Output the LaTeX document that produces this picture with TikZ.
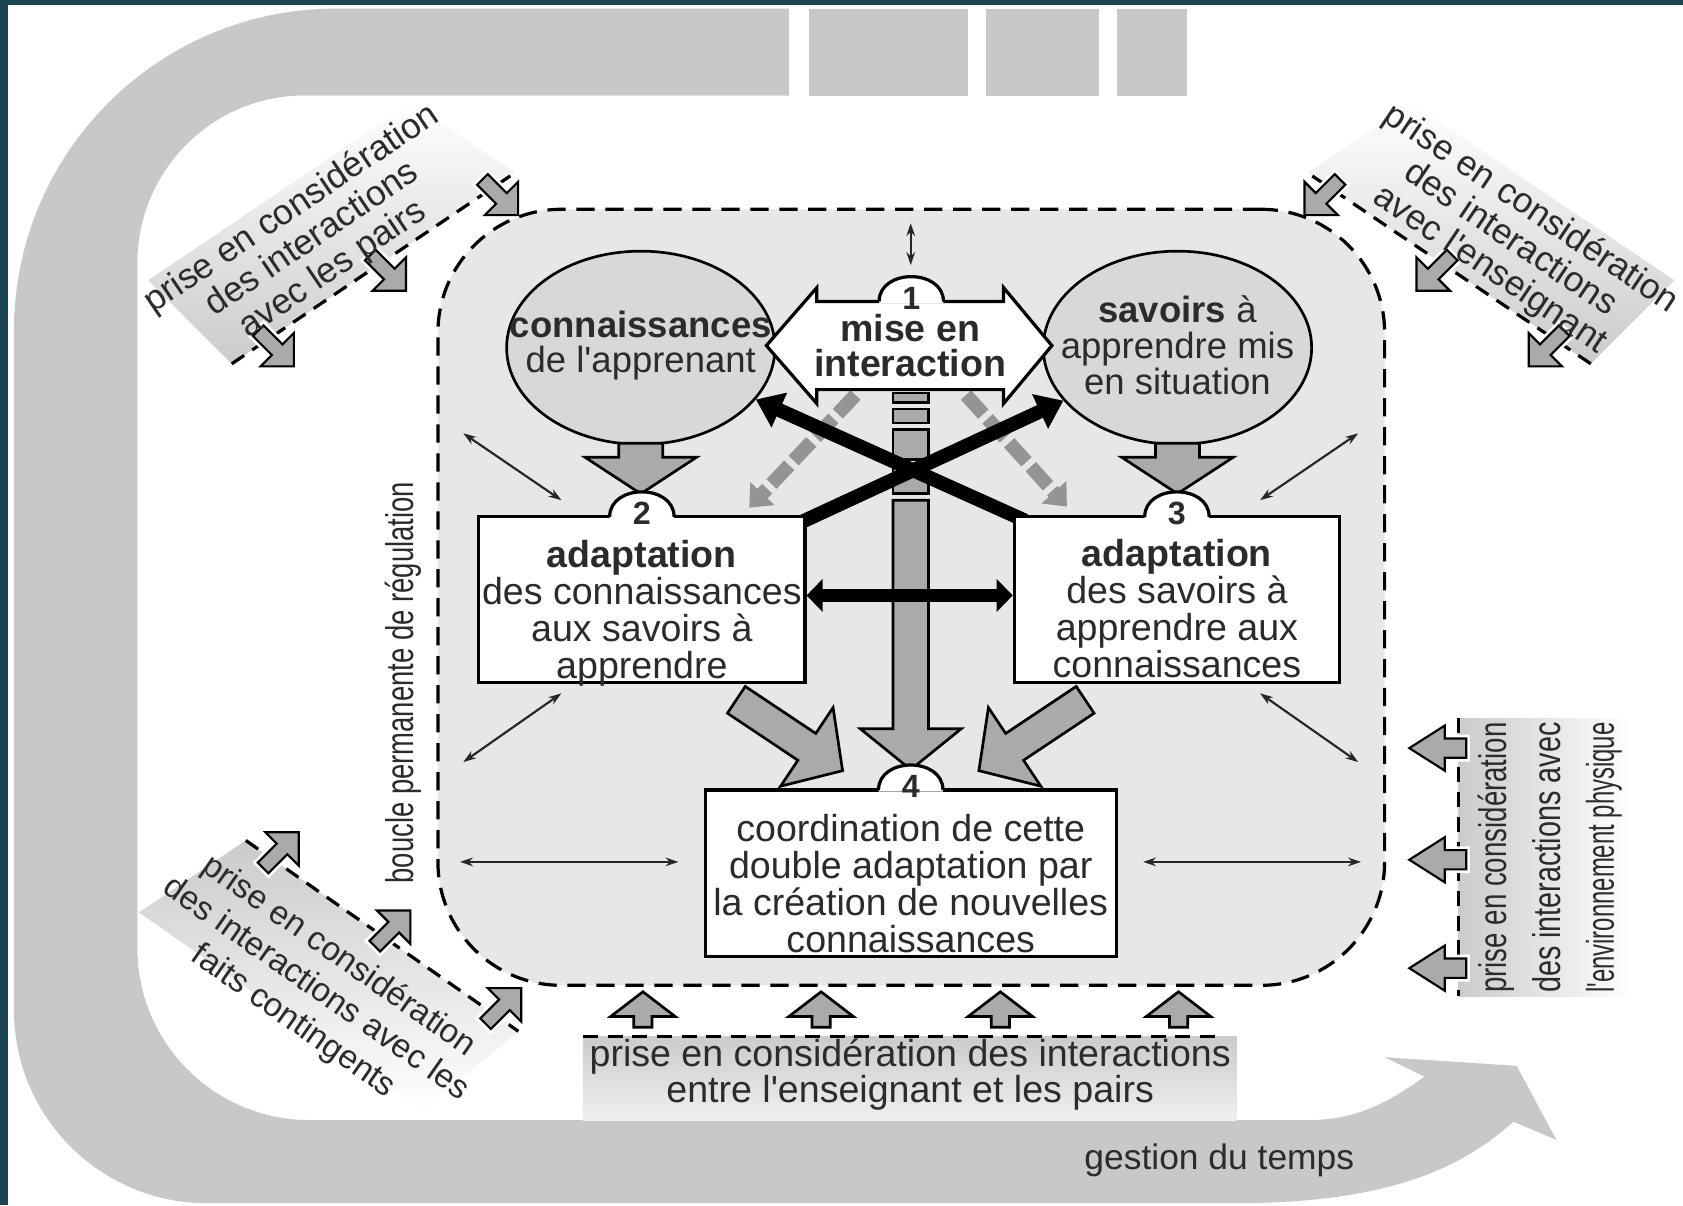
\documentclass[tikz,border=0pt]{standalone}
\usepackage{fontspec}
\setmainfont{Liberation Sans}
\usepackage{graphicx}
\usetikzlibrary{shapes.geometric,arrows.meta}

\definecolor{framecol}{HTML}{1B4552}
\definecolor{bandcol}{HTML}{C7C8CA}
\definecolor{zonecol}{HTML}{E6E7E8}
\definecolor{circcol}{HTML}{D7D8DA}
\definecolor{fatcol}{HTML}{A9AAAC}
\definecolor{dashcol}{HTML}{939496}
\definecolor{panelcol}{HTML}{CACBCD}
\definecolor{inkcol}{HTML}{2B2B2B}

\newcommand{\ap}{\textquotesingle}

\tikzset{
  zone/.style={draw=black, line width=3pt, dash pattern=on 17pt off 10pt, fill=zonecol, rounded corners=115pt, inner sep=0pt},
  thinarrow/.style={draw=black!85, line width=2pt, {Stealth[length=12pt,width=8pt]}-{Stealth[length=12pt,width=8pt]}},
  circ/.style={ellipse, draw=black, line width=2.5pt, fill=circcol, inner sep=0pt, minimum width=250pt, minimum height=180pt},
  stagebox/.style={draw=black, line width=3pt, fill=white, inner sep=0pt},
  txt/.style={font=\fontsize{35}{34.5}\selectfont, align=center, inner sep=0pt, text=inkcol},
  paneltxt/.style={font=\fontsize{33}{34}\selectfont, align=center, inner sep=0pt, text=inkcol},
  vtxt/.style={font=\fontsize{36}{50}\selectfont, align=center, inner sep=0pt, text=inkcol, rotate=90},
  numtxt/.style={font=\fontsize{30}{30}\selectfont\bfseries, inner sep=0pt, text=inkcol},
  fatbody/.style={fill=fatcol, draw=black, line width=2.5pt, line join=miter},
  notchbody/.style={fill=fatcol, draw=black, line width=2pt, line join=miter, preaction={draw=white, line width=7pt}},
  paneldash/.style={draw=black, line width=3pt, dash pattern=on 14pt off 9pt},
  graydash/.style={draw=dashcol, line width=13pt, dash pattern=on 24pt off 6pt, -{Triangle[length=18pt,width=30pt]}},
  xline/.style={draw=black, line width=13pt, -{Triangle[length=24pt,width=34pt]}},
  hline/.style={draw=black, line width=12pt, {Triangle[length=15pt,width=30pt]}-{Triangle[length=15pt,width=30pt]}}
}

% block arrow: [style] x, y (tail), angle, length, shaft half width, head length, head half width
\newcommand{\fatarrow}[8][fatbody]{%
  \begin{scope}[shift={(#2,#3)}, rotate=#4]
    \filldraw[#1] (0,-#6) -- ({#5-#7},-#6) -- ({#5-#7},-#8) -- (#5,0) -- ({#5-#7},#8) -- ({#5-#7},#6) -- (0,#6) -- cycle;
  \end{scope}}

% number tab on top of a box
\newcommand{\stagetab}[3]{%
  \fill[white] (#1-30,#2+1.6) -- (#1-30,#2) .. controls (#1-30,#2-31) and (#1+30,#2-31) .. (#1+30,#2) -- (#1+30,#2+1.6) -- cycle;
  \draw[line width=3pt] (#1-30,#2) .. controls (#1-30,#2-31) and (#1+30,#2-31) .. (#1+30,#2);
  \node[numtxt] (n#3) at (#1,#2-3) {#3};}

\begin{document}
\begin{tikzpicture}[x=1pt, y=-1pt]
  \useasboundingbox (0,0) rectangle (1568,1123);
  \fill[framecol] (0,0) rectangle (1568,1123);
  \fill[white] (7,5) rectangle (1568,1123);

  % time band
  \fill[bandcol] (735,8) -- (313,8) .. controls (147.4,8) and (13,142.4) .. (13,308)
    -- (13,941) .. controls (13,1040.4) and (93.6,1121) .. (193,1121)
    -- (1150,1121) .. controls (1290,1121) and (1360,1090) .. (1410,1045)
    -- (1450,1062) -- (1413,993) -- (1290,985) -- (1327,1003)
    .. controls (1290,1030) and (1260,1043.5) .. (1220,1043.5)
    -- (288,1043.5) .. controls (199.7,1043.5) and (128,971.8) .. (128,883.5)
    -- (128,245) .. controls (128,159.4) and (197.4,89) .. (283,89)
    -- (735,89) -- cycle;
  \fill[bandcol] (754,8) rectangle (902,89);
  \fill[bandcol] (919,8) rectangle (1024,89);
  \fill[bandcol] (1041,8) rectangle (1106,89);
  \node[txt, font=\fontsize{33}{33}\selectfont] (temps) at (1136,1081) {gestion du temps};

  % panels
  \begin{scope}[shift={(324.5,265.7)}, rotate=34]
    \shade[top color=white, bottom color=panelcol] (-131,0) -- (187,0) -- (144,-108) -- (-152,-108) -- cycle;
    \draw[paneldash] (-131,0) -- (187,0);
    \foreach \c in {161,35,-91} {\fatarrow[notchbody]{\c-2.3}{-11.8}{-79}{47}{7}{22}{22}}
    \node[paneltxt, transform shape] (peers) at (-4,-54) {prise en considération\\des interactions\\avec les pairs};
  \end{scope}
  \begin{scope}[shift={(1373.5,265.7)}, rotate=-34]
    \shade[top color=white, bottom color=panelcol] (131,0) -- (-187,0) -- (-144,-108) -- (152,-108) -- cycle;
    \draw[paneldash] (131,0) -- (-187,0);
    \foreach \c in {-161,-35,91} {\fatarrow[notchbody]{\c+2.3}{-11.8}{-101}{47}{7}{22}{22}}
    \node[paneltxt, transform shape] (teacher) at (4,-54) {prise en considération\\des interactions\\avec l\ap enseignant};
  \end{scope}
  \begin{scope}[shift={(331.4,854.7)}, rotate=-35]
    \shade[top color=panelcol, bottom color=white] (-125,0) -- (185,0) -- (154,112) -- (-168,112) -- cycle;
    \draw[paneldash] (-125,0) -- (185,0);
    \foreach \c in {-95,32,158} {\fatarrow[notchbody]{\c-2.1}{11.8}{80}{47}{7}{22}{22}}
    \node[paneltxt, transform shape, font=\fontsize{31}{37}\selectfont] (facts) at (8,76) {prise en considération\\des interactions avec les\\faits contingents};
  \end{scope}
  \shade[left color=panelcol, right color=white] (1359,669) rectangle (1521,928);
  \draw[paneldash] (1359,669) -- (1359,928);
  \foreach \y in {697,801,902} {\fatarrow[notchbody]{1366}{\y}{180}{53}{9}{33}{21}}
  \node[vtxt] (physique) at (1444,799) {\resizebox{252pt}{\height}{prise en considération}\\\resizebox{252pt}{\height}{des interactions avec}\\\resizebox{252pt}{\height}{l\ap environnement physique}};
  \shade[top color=panelcol, bottom color=black!6] (543,966) rectangle (1152,1043.5);
  \draw[paneldash] (543,966) -- (1140,966);
  \foreach \x in {599,765,932,1098} {\fatarrow{\x}{957}{90}{33}{8.5}{23}{30}}
  \node[txt, font=\fontsize{35}{34}\selectfont] (between) at (848,1001) {prise en considération des interactions\\entre l\ap enseignant et les pairs};

  % regulation loop
  \node[zone, minimum width=882pt, minimum height=723pt] (loop) at (849,556.5) {};
  \node[vtxt] (boucle) at (376,636) {\resizebox{374pt}{\height}{boucle permanente de régulation}};
  \foreach \n/\p in {t0/{848.5,208}, t1/{848.5,247}, l0/{431.6,403.7}, l1/{523,466}, m0/{431.6,710}, m1/{523,646},
      b0/{428.6,803}, b1/{632,803}, r0/{1265.4,403.7}, r1/{1174,466}, s0/{1265.4,710}, s1/{1174,646}, c0/{1268,803}, c1/{1065,803}}
    \coordinate (\n) at (\p);
  \draw[thinarrow] (t0) -- (t1);
  \draw[thinarrow] (l0) -- (l1);
  \draw[thinarrow] (m0) -- (m1);
  \draw[thinarrow] (b0) -- (b1);
  \draw[thinarrow] (r0) -- (r1);
  \draw[thinarrow] (s0) -- (s1);
  \draw[thinarrow] (c0) -- (c1);

  % knowledge and contents
  \node[circ] (apprenant) at (597,324) {};
  \node[circ] (savoirs) at (1097,324) {};
  \node[txt, font=\fontsize{34}{32}\selectfont] (apprenanttxt) at (597,322) {\textbf{connaissances}\\de l\ap apprenant};
  \node[txt, font=\fontsize{34}{33.5}\selectfont] (savoirstxt) at (1097,322) {\textbf{savoirs} à\\apprendre mis\\en situation};

  \coordinate (gl0) at (797,368);
  \coordinate (gl1) at (698,473);
  \coordinate (gr0) at (900,368);
  \coordinate (gr1) at (994,472);
  \draw[graydash] (gl0) -- (gl1);
  \draw[graydash] (gr0) -- (gr1);

  \filldraw[fatbody] (832,366) rectangle (865,375);
  \filldraw[fatbody] (832,381) rectangle (865,394);
  \filldraw[fatbody] (832,400) rectangle (865,428);
  \filldraw[fatbody] (832,434) rectangle (865,460);
  \fatarrow{848.5}{466}{-90}{251}{16.5}{38}{47}

  \coordinate (xl) at (955,485);
  \coordinate (xr) at (740,489.5);
  \draw[xline] (xl) -- (apprenant);
  \draw[xline] (xr) -- (savoirs);

  \filldraw[fill=white, draw=black, line width=3pt, line join=miter] (714,322) -- (761,268) -- (761,281) -- (935,281)
    -- (935,268) -- (980,322) -- (935,376) -- (935,363) -- (761,363) -- (761,376) -- cycle;
  \node[txt, font=\fontsize{35}{32}\selectfont\bfseries] (mise) at (848,322) {mise en\\interaction};

  \fatarrow{597}{413}{-90}{47}{20.5}{34}{52}
  \fatarrow{1097}{413}{-90}{47}{20.5}{34}{52}

  % adaptation boxes
  \node[stagebox, minimum width=304pt, minimum height=154.5pt] (adapt2) at (598,558.75) {};
  \node[stagebox, minimum width=303pt, minimum height=154.5pt] (adapt3) at (1096.5,558.75) {};
  \node[stagebox, minimum width=383pt, minimum height=155pt] (coord) at (848.5,813.5) {};
  \draw[hline] ([yshift=4pt]adapt2.east) -- ([yshift=4pt]adapt3.west);
  \fatarrow{686}{652}{-33.7}{119}{15}{40}{44}
  \fatarrow{1011}{652}{-146.3}{119}{15}{40}{44}

  \stagetab{849}{281}{1}
  \stagetab{598}{481.5}{2}
  \stagetab{1096.5}{481.5}{3}
  \stagetab{848.5}{736}{4}

  \node[txt] (adapt2txt) at (598,571) {\textbf{adaptation}\\des connaissances\\aux savoirs à\\apprendre};
  \node[txt] (adapt3txt) at (1096.5,567) {\textbf{adaptation}\\des savoirs à\\apprendre aux\\connaissances};
  \node[txt] (coordtxt) at (848.5,823) {coordination de cette\\double adaptation par\\la création de nouvelles\\connaissances};
\end{tikzpicture}
\end{document}
